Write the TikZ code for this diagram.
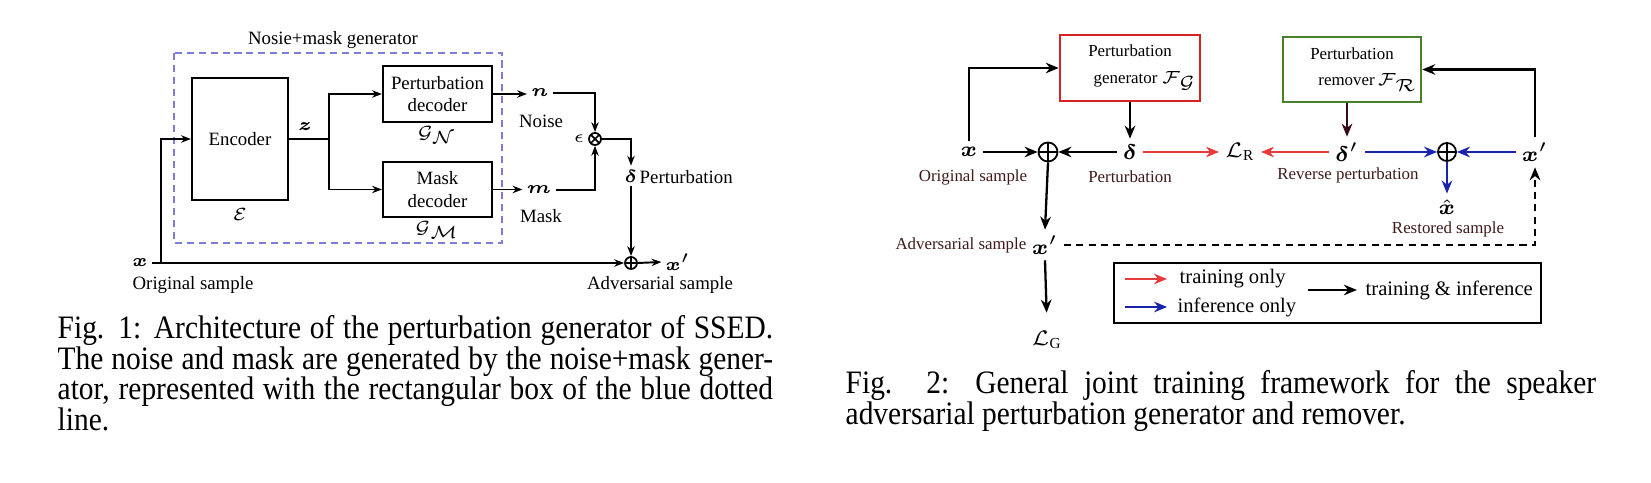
\documentclass[tikz,border=0pt]{standalone}
\usepackage{amsmath}
\usepackage{fontspec}
\setmainfont{Liberation Serif}
\newfontfamily\capfont[FakeStretch=0.9]{Liberation Serif}
\usetikzlibrary{arrows.meta, positioning, calc}
\definecolor{mylav}{RGB}{125,125,215}
\definecolor{myred}{RGB}{232,58,58}
\definecolor{myboxred}{RGB}{214,36,36}
\definecolor{mygreen}{RGB}{72,128,42}
\definecolor{myblue}{RGB}{24,36,172}
\definecolor{mymaroon}{RGB}{52,10,26}
\definecolor{mybrown}{RGB}{62,26,26}
\tikzset{
  block/.style={rectangle, draw, line width=0.6pt, align=center, inner sep=1pt,
    font=\fontsize{5.35}{6.3}\selectfont},
  fbox/.style={rectangle, draw, line width=0.6pt, align=center, inner sep=1pt,
    font=\fontsize{4.8}{7.4}\selectfont},
  sym/.style={inner sep=1pt, font=\fontsize{5.35}{6}\selectfont},
  bigsym/.style={inner sep=1.5pt, font=\fontsize{6.2}{7}\selectfont},
  note/.style={inner sep=0pt, font=\fontsize{5.35}{6}\selectfont},
  smallnote/.style={inner sep=0pt, text=mybrown, font=\fontsize{4.8}{6}\selectfont},
  legtext/.style={inner sep=0pt, font=\fontsize{5.86}{7}\selectfont},
  plusnode/.style={circle, draw, inner sep=0pt, line width=0.5pt, minimum size=#1,
    path picture={\draw[line width=0.5pt]
      (path picture bounding box.north) -- (path picture bounding box.south)
      (path picture bounding box.west) -- (path picture bounding box.east);}},
  timesnode/.style={circle, draw, inner sep=0pt, line width=0.5pt, minimum size=#1,
    path picture={\draw[line width=0.5pt]
      (path picture bounding box.north west) -- (path picture bounding box.south east)
      (path picture bounding box.south west) -- (path picture bounding box.north east);}},
  arrow/.style={-{Stealth[length=2.8pt, width=2.1pt]}, line width=0.55pt},
  arrowb/.style={-{Stealth[length=3.7pt, width=3pt]}, line width=0.65pt},
  capline/.style={anchor=base west, inner sep=0pt, font=\capfont\fontsize{9.3}{10}\selectfont}
}

\begin{document}
\begin{tikzpicture}[x=0.01cm, y=-0.01cm]
  \useasboundingbox (0,0) rectangle (1651,483);

  % Generator box
  \draw[mylav, line width=0.6pt, dash pattern=on 2pt off 1.4pt] (174,53) rectangle (502,243);
  \node[note] (gentitle) at (333,40) {Nosie+mask generator};

  % Encoder and decoders
  \node[block, minimum width=0.96cm, minimum height=1.22cm] (enc) at (240,139) {Encoder};
  \node[note] (encl) at (240,215) {$\mathcal{E}$};
  \node[block, minimum width=1.09cm, minimum height=0.56cm] (pdec) at (437.5,94) {Perturbation\\decoder};
  \node[note] (gn) at (437,135) {$\mathcal{G}_{\mathcal{N}}$};
  \node[block, minimum width=1.09cm, minimum height=0.55cm] (mdec) at (437.5,189.5) {Mask\\decoder};
  \node[note] (gm) at (437,230) {$\mathcal{G}_{\mathcal{M}}$};
  \coordinate (split) at (329,139);
  \node[sym] (z) at (305,127) {$\boldsymbol{z}$};
  \draw[line width=0.8pt] (enc.east) -- (split);
  \draw[arrow] (split) |- (pdec.west);
  \draw[arrow] (split) |- (mdec.west);

  % Noise and mask
  \node[sym] (n) at (540,93) {$\boldsymbol{n}$};
  \node[note] (noise) at (541,121) {Noise};
  \node[sym] (m) at (539,190) {$\boldsymbol{m}$};
  \node[note] (mask) at (541,216) {Mask};
  \draw[arrow] (pdec.east) -- (pdec.east -| n.west);
  \draw[arrow] (mdec.east) -- (mdec.east -| m.west);
  \node[timesnode=0.12cm] (mul) at (595,139) {};
  \node[sym] (eps) at (579,139) {$\epsilon$};
  \draw[arrow] (n.east) -| (mul.north);
  \draw[arrow] (m.east) -| (mul.south);

  % Perturbation
  \node[sym] (delta) at (631,176) {$\boldsymbol{\delta}$};
  \node[note, anchor=west] (pert) at (639,177) {Perturbation};
  \draw[arrow] (mul.east) -| (delta.north);
  \node[plusnode=0.12cm] (add) at (631,263) {};
  \draw[arrow] (delta.south) -- (add.north);

  % Input and output
  \node[sym] (xin) at (140,263) {$\boldsymbol{x}$};
  \node[note] (orig) at (193,285) {Original sample};
  \coordinate (xup) at (161,263);
  \draw[arrow] (xin.east) -- (add.west);
  \draw[arrow] (xup) |- (enc.west);
  \node[sym] (xadv) at (678,262) {$\boldsymbol{x}'$};
  \draw[arrow] (add.east) -- (xadv.west);
  \node[note] (advs) at (660,285) {Adversarial sample};

  % Generator and remover
  \node[fbox, draw=myboxred, minimum width=1.32cm, minimum height=0.66cm] (gen) at (1130,68)
    {Perturbation\\\hspace*{1.8em}generator $\mathcal{F}_{\mathcal{G}}$};
  \node[fbox, draw=mygreen, minimum width=1.22cm, minimum height=0.65cm] (rem) at (1352,69.5)
    {Perturbation\\\hspace*{1.9em}remover\,$\mathcal{F}_{\mathcal{R}}$};

  % Signals
  \node[bigsym] (x2) at (969,152) {$\boldsymbol{x}$};
  \node[smallnote] (orig2) at (973,177) {Original sample};
  \node[plusnode=0.19cm] (add2) at (1048,152) {};
  \node[bigsym] (d2) at (1130,152) {$\boldsymbol{\delta}$};
  \node[smallnote] (pert2) at (1130,177) {Perturbation};
  \node[bigsym] (lr) at (1240,152) {$\mathcal{L}_{\mathrm{R}}$};
  \node[bigsym] (dp) at (1347,152) {$\boldsymbol{\delta}'$};
  \node[smallnote] (rev) at (1348,175) {Reverse perturbation};
  \node[plusnode=0.18cm] (add3) at (1447,152) {};
  \node[bigsym] (xp2) at (1535,152) {$\boldsymbol{x}'$};
  \node[bigsym] (xhat) at (1447,207) {$\hat{\boldsymbol{x}}$};
  \node[smallnote] (rest) at (1448,229) {Restored sample};
  \node[bigsym] (xp1) at (1045,245) {$\boldsymbol{x}'$};
  \node[smallnote, anchor=east] (adv2) at (1027,245) {Adversarial sample};
  \node[bigsym] (lg) at (1047,340) {$\mathcal{L}_{\mathrm{G}}$};

  % Connections
  \draw[arrowb] (x2.north) |- (gen.west);
  \draw[arrowb] (x2.east) -- (add2.west);
  \draw[arrowb] (d2.west) -- (add2.east);
  \draw[arrowb] (gen.south) -- (d2.north);
  \draw[arrowb, myred] (d2.east) -- (lr.west);
  \draw[arrowb] (add2.south) -- (xp1.north);
  \draw[arrowb, shorten >=3.5pt] (xp1.south) -- (lg.north);
  \draw[arrowb, dash pattern=on 2pt off 1.5pt] (xp1.east) -| (xp2.south);
  \draw[arrowb] (xp2.north) |- (rem.east);
  \draw[arrowb, mymaroon] (dp |- rem.south) -- (dp.north);
  \draw[arrowb, myred] (dp.west) -- (lr.east);
  \draw[arrowb, myblue] (dp.east) -- (add3.west);
  \draw[arrowb, myblue] (xp2.west) -- (add3.east);
  \draw[arrowb, myblue] (add3.south) -- (xhat.north);

  % Legend
  \node[draw, line width=0.5pt, minimum width=4.27cm, minimum height=0.6cm] (legend) at (1327.5,293) {};
  \node[legtext, anchor=west] (ltrain) at (1179,279) {training only};
  \node[legtext, anchor=west] (linfer) at (1177,307) {inference only};
  \node[legtext, anchor=west] (lboth) at (1365,290) {training \& inference};
  \coordinate (ltrainA) at (1125,279);
  \coordinate (linferA) at (1125,307);
  \coordinate (lbothA) at (1308,290);
  \draw[arrowb, myred, shorten >=3.4pt] (ltrainA) -- (ltrain.west);
  \draw[arrowb, myblue, shorten >=2.8pt] (linferA) -- (linfer.west);
  \draw[arrowb, shorten >=2.3pt] (lbothA) -- (lboth.west);

  % Captions
  \node[capline] (cap1a) at (57,339) {\makebox[7.15cm][s]{Fig. 1: Architecture of the perturbation generator of SSED.}};
  \node[capline] (cap1b) at (57,370) {\makebox[7.15cm][s]{The noise and mask are generated by the noise+mask gener-}};
  \node[capline] (cap1c) at (57,400) {\makebox[7.15cm][s]{ator, represented with the rectangular box of the blue dotted}};
  \node[capline] (cap1d) at (57,431) {line.};
  \node[capline] (cap2a) at (845,394) {\makebox[7.5cm][s]{Fig. 2: General joint training framework for the speaker}};
  \node[capline] (cap2b) at (845,425) {adversarial perturbation generator and remover.};
\end{tikzpicture}
\end{document}
